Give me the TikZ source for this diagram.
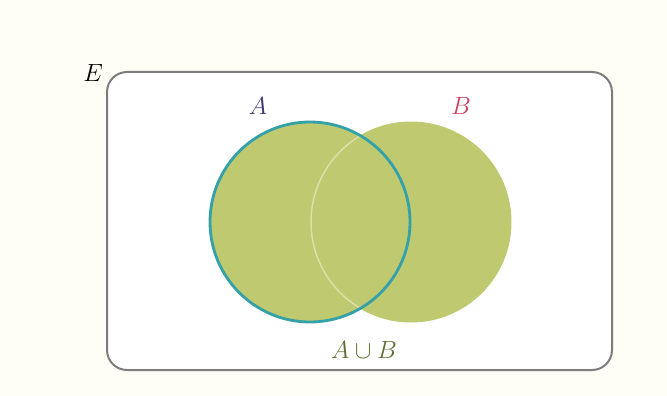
\documentclass[tikz,border=0pt]{standalone}
\begin{document}
\begin{tikzpicture}[x=1pt,y=-1pt,
  setfill/.style={circle, inner sep=0pt, minimum size=201pt, fill=vgreen},
  lbl/.style={font=\fontsize{30}{33}\selectfont, inner sep=0pt}]
\definecolor{vgreen}{RGB}{190,201,112}
\definecolor{tealline}{RGB}{52,160,168}
\definecolor{boxline}{RGB}{125,125,125}
\definecolor{bg}{RGB}{254,254,246}
\definecolor{alab}{RGB}{62,52,112}
\definecolor{blab}{RGB}{205,62,95}
\definecolor{ulab}{RGB}{95,112,55}
\definecolor{paleedge}{RGB}{222,222,170}
\fill[bg] (0,0) rectangle (667,396);
\useasboundingbox (0,0) rectangle (667,396);
\node[draw=boxline, fill=white, line width=2pt, rounded corners=20pt, minimum width=505pt, minimum height=298pt, inner sep=0pt] (E) at (359.5,221) {};
\node[setfill] (B) at (411,222) {};
\node[setfill] (A) at (310,222) {};
\begin{scope}
  \clip (A) circle (99pt);
  \draw[paleedge, line width=1.5pt] (B) circle (100pt);
\end{scope}
\draw[tealline, line width=2.8pt] (A) circle (100pt);
\node[lbl] (El) at (93,73) {$E$};
\node[lbl, text=alab] (Al) at (258,106) {$A$};
\node[lbl, text=blab] (Bl) at (461,106) {$B$};
\node[lbl, text=ulab] (ABl) at (364,350) {$A\cup B$};
\end{tikzpicture}
\end{document}
